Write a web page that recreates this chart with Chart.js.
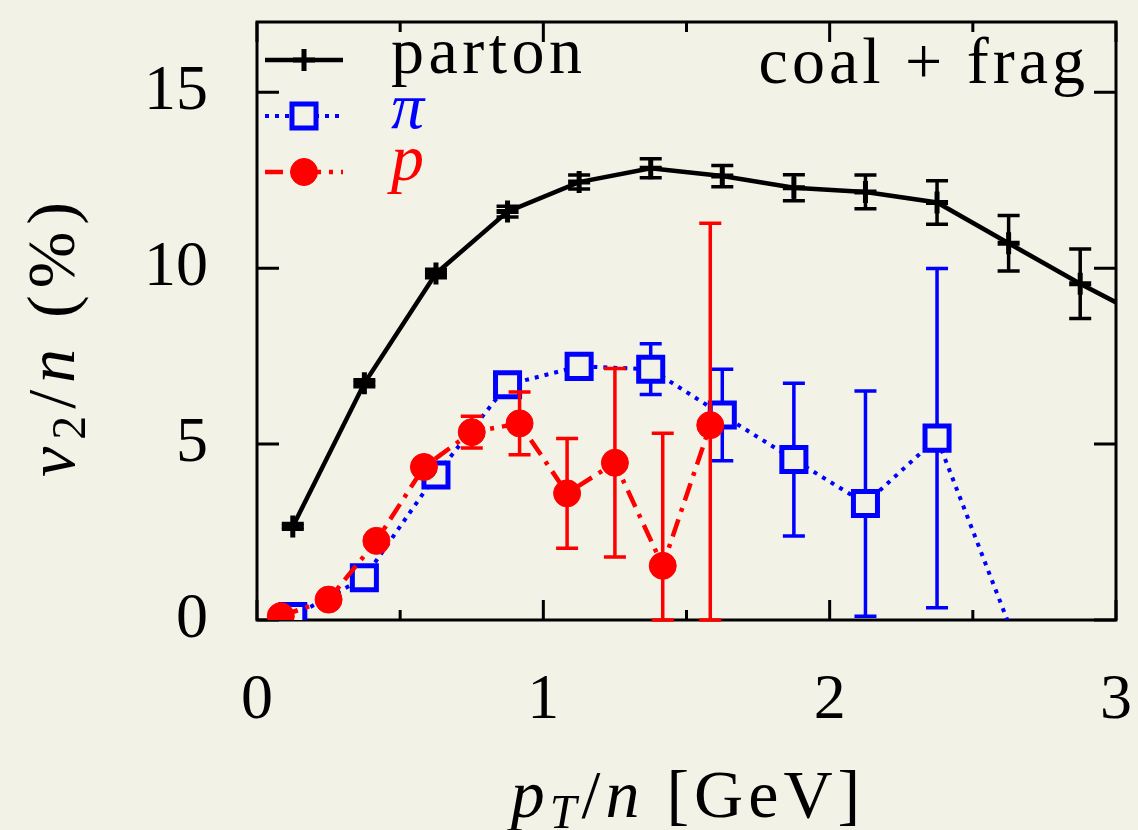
<!DOCTYPE html>
<html>
<head>
<meta charset="utf-8">
<script src="https://cdn.jsdelivr.net/npm/chart.js@4.4.1/dist/chart.umd.min.js"></script>
<style>
  html, body { margin: 0; padding: 0; background: #f2f2e6; }
  canvas { display: block; background: #f2f2e6; }
</style>
</head>
<body>
<canvas id="chart" width="1138" height="830"></canvas>
<script>
// values: v2/n (%) vs pT/n (GeV)
const partonX   = [0.125, 0.375, 0.625, 0.875, 1.125, 1.375, 1.625, 1.875, 2.125, 2.375, 2.625, 2.875, 3.125];
const partonY   = [2.66, 6.73, 9.85, 11.61, 12.45, 12.84, 12.62, 12.29, 12.17, 11.87, 10.71, 9.56, 8.5];
const partonErr = [0.08, 0.1, 0.12, 0.15, 0.2, 0.27, 0.3, 0.37, 0.48, 0.62, 0.79, 0.99, 1.1];

const pionX   = [0.125, 0.375, 0.625, 0.875, 1.125, 1.375, 1.625, 1.875, 2.125, 2.375, 2.625];
const pionY   = [0.1, 1.2, 4.12, 6.69, 7.21, 7.13, 5.83, 4.56, 3.31, 5.17, -0.1];
const pionErr = [0.05, 0.1, 0.15, 0.2, 0.25, 0.72, 1.3, 2.17, 3.2, 4.82, 6.0];

const protonX   = [0.083, 0.25, 0.417, 0.583, 0.75, 0.917, 1.083, 1.25, 1.417, 1.583];
const protonY   = [0.11, 0.58, 2.25, 4.35, 5.34, 5.59, 3.6, 4.47, 1.54, 5.54];
const protonErr = [0.05, 0.08, 0.12, 0.2, 0.45, 0.89, 1.56, 2.68, 3.77, 5.74];

const xTicks = [0, 1, 2, 3];
const xMinorTicks = [0.5, 1.5, 2.5];
const yTicks = [0, 5, 10, 15];

const BG = '#f2f2e6';
const SERIF = '"Liberation Serif", "DejaVu Serif", serif';

const toPoints = (xs, ys) => xs.map((x, i) => ({ x: x, y: ys[i] }));
// hide markers that fall outside the plotted range, like gnuplot does
const inRange = (p) => p && p.x >= 0 && p.x <= 3 && p.y >= 0 && p.y <= 17;

// error bars, drawn just before each dataset so the markers sit on top
const errorBars = {
    id: 'errorBars',
    beforeDatasetDraw(chart, args) {
        const ds = chart.data.datasets[args.index];
        if (!ds.errors) return;
        const ctx = chart.ctx;
        const xs = chart.scales.x, ys = chart.scales.y;
        ctx.save();
        ctx.strokeStyle = ds.borderColor;
        ctx.lineWidth = ds.errWidth || 3;
        ctx.setLineDash([]);
        ds.data.forEach((p, i) => {
            if (p.x < 0 || p.x > 3 || p.y < 0) return;
            const e = ds.errors[i];
            const px = xs.getPixelForValue(p.x);
            const lo = ys.getPixelForValue(Math.max(p.y - e, 0));
            const hi = ys.getPixelForValue(Math.min(p.y + e, 17));
            ctx.beginPath();
            ctx.moveTo(px, lo); ctx.lineTo(px, hi);
            ctx.moveTo(px - 11, lo); ctx.lineTo(px + 11, lo);
            ctx.moveTo(px - 11, hi); ctx.lineTo(px + 11, hi);
            ctx.stroke();
        });
        ctx.restore();
    }
};

function drawRuns(ctx, runs, x, y, align, spacing) {
    ctx.letterSpacing = (spacing || 0) + 'px';
    let total = 0;
    runs.forEach(r => { ctx.font = r.font; total += ctx.measureText(r.t).width; });
    let cx = align === 'center' ? x - total / 2 : (align === 'right' ? x - total : x);
    ctx.textAlign = 'left';
    ctx.textBaseline = 'alphabetic';
    runs.forEach(r => {
        ctx.font = r.font;
        ctx.fillText(r.t, cx, y + (r.dy || 0));
        cx += ctx.measureText(r.t).width;
    });
    ctx.letterSpacing = '0px';
}

// frame, inward ticks, legend and labels
const decorations = {
    id: 'decorations',
    beforeDatasetsDraw(chart) {
        const ctx = chart.ctx;
        const a = chart.chartArea;
        const xs = chart.scales.x, ys = chart.scales.y;
        ctx.save();
        ctx.strokeStyle = '#000';
        ctx.lineWidth = 3;
        ctx.strokeRect(a.left, a.top, a.right - a.left, a.bottom - a.top);

        ctx.beginPath();
        xTicks.forEach(v => {
            const px = xs.getPixelForValue(v);
            ctx.moveTo(px, a.bottom); ctx.lineTo(px, a.bottom - 20);
            ctx.moveTo(px, a.top); ctx.lineTo(px, a.top + 20);
        });
        xMinorTicks.forEach(v => {
            const px = xs.getPixelForValue(v);
            ctx.moveTo(px, a.bottom); ctx.lineTo(px, a.bottom - 10);
            ctx.moveTo(px, a.top); ctx.lineTo(px, a.top + 10);
        });
        yTicks.forEach(v => {
            const py = ys.getPixelForValue(v);
            ctx.moveTo(a.left, py); ctx.lineTo(a.left + 22, py);
            ctx.moveTo(a.right, py); ctx.lineTo(a.right - 22, py);
        });
        ctx.stroke();

        // legend: line sample with marker, same styles as the datasets
        const sets = chart.data.datasets;
        const rows = [60, 116, 172];
        sets.forEach((ds, r) => {
            const y = rows[r];
            ctx.save();
            ctx.strokeStyle = ds.borderColor;
            ctx.lineWidth = ds.borderWidth;
            ctx.setLineDash(ds.borderDash || []);
            ctx.beginPath();
            ctx.moveTo(265, y); ctx.lineTo(343, y);
            ctx.stroke();
            ctx.setLineDash([]);
            ctx.fillStyle = ds.pointBackgroundColor;
            ctx.strokeStyle = ds.pointBorderColor;
            ctx.lineWidth = ds.pointBorderWidth;
            Chart.helpers.drawPoint(ctx, {
                pointStyle: ds.pointStyle,
                radius: ds.legendRadius,
                borderWidth: ds.pointBorderWidth,
                rotation: 0
            }, 304, y);
            ctx.restore();
        });

        ctx.fillStyle = '#000';
        drawRuns(ctx, [{ t: 'parton', font: '66px ' + SERIF }], 391, 73, 'left', 4.5);
        ctx.fillStyle = '#0000ff';
        drawRuns(ctx, [{ t: 'π', font: 'italic 66px ' + SERIF }], 391, 128, 'left', 0);
        ctx.fillStyle = '#ff0000';
        drawRuns(ctx, [{ t: 'p', font: 'italic 66px ' + SERIF }], 391, 180, 'left', 0);

        ctx.fillStyle = '#000';
        drawRuns(ctx, [{ t: 'coal + frag', font: '66px ' + SERIF }], 1089, 83, 'right', 4);

        // axis titles
        const it = 'italic 68px ' + SERIF, up = '68px ' + SERIF, sub = '48px ' + SERIF, subIt = 'italic 48px ' + SERIF;
        drawRuns(ctx, [
            { t: 'p', font: it },
            { t: 'T', font: subIt, dy: 11 },
            { t: '/', font: up },
            { t: 'n', font: it },
            { t: ' [GeV]', font: up }
        ], 688, 817, 'center', 5);

        ctx.translate(74, 336);
        ctx.rotate(-Math.PI / 2);
        drawRuns(ctx, [
            { t: 'v', font: it },
            { t: '2', font: sub, dy: 11 },
            { t: '/', font: up },
            { t: 'n', font: it },
            { t: ' (%)', font: up }
        ], 0, 0, 'center', 7);
        ctx.restore();
    }
};

const tickFont = { family: SERIF, size: 64 };

new Chart(document.getElementById('chart').getContext('2d'), {
    type: 'scatter',
    data: {
        datasets: [
            {
                label: 'parton',
                data: toPoints(partonX, partonY),
                errors: partonErr,
                errWidth: 3.5,
                showLine: true,
                order: 0,
                borderColor: '#000000',
                borderWidth: 4.5,
                pointStyle: 'cross',
                pointBorderColor: '#000000',
                pointBackgroundColor: '#000000',
                pointBorderWidth: 5,
                legendRadius: 11,
                pointRadius: c => inRange(c.raw) ? 11 : 0
            },
            {
                label: 'π',
                data: toPoints(pionX, pionY),
                errors: pionErr,
                errWidth: 3.5,
                showLine: true,
                order: 2,
                borderColor: '#0000ff',
                borderWidth: 4,
                borderDash: [4, 6],
                pointStyle: 'rect',
                pointBorderColor: '#0000ff',
                pointBackgroundColor: BG,
                pointBorderWidth: 5,
                legendRadius: 17,
                pointRadius: c => inRange(c.raw) ? 17 : 0
            },
            {
                label: 'p',
                data: toPoints(protonX, protonY),
                errors: protonErr,
                errWidth: 3.5,
                showLine: true,
                order: 1,
                borderColor: '#ff0000',
                borderWidth: 4.5,
                borderDash: [18, 8, 4, 8],
                pointStyle: 'circle',
                pointBorderColor: '#ff0000',
                pointBackgroundColor: '#ff0000',
                pointBorderWidth: 1,
                legendRadius: 13.5,
                pointRadius: c => inRange(c.raw) ? 13.5 : 0
            }
        ]
    },
    options: {
        responsive: false,
        animation: false,
        layout: { padding: { top: 14, right: 17, left: 0, bottom: 0 } },
        plugins: {
            legend: { display: false },
            tooltip: { enabled: false }
        },
        scales: {
            x: {
                type: 'linear',
                min: 0,
                max: 3,
                grid: { display: false, drawTicks: false },
                border: { display: false },
                afterBuildTicks: s => { s.ticks = xTicks.map(v => ({ value: v })); },
                afterFit: s => { s.height = 210; s.paddingLeft = 0; s.paddingRight = 0; },
                ticks: { font: tickFont, color: '#000', padding: 43, maxRotation: 0, autoSkip: false }
            },
            y: {
                type: 'linear',
                min: 0,
                max: 17,
                grid: { display: false, drawTicks: false },
                border: { display: false },
                afterBuildTicks: s => { s.ticks = yTicks.map(v => ({ value: v })); },
                afterFit: s => { s.width = 257; s.paddingTop = 0; s.paddingBottom = 0; },
                ticks: { font: tickFont, color: '#000', padding: 49, autoSkip: false }
            }
        }
    },
    plugins: [decorations, errorBars]
});
</script>
</body>
</html>
